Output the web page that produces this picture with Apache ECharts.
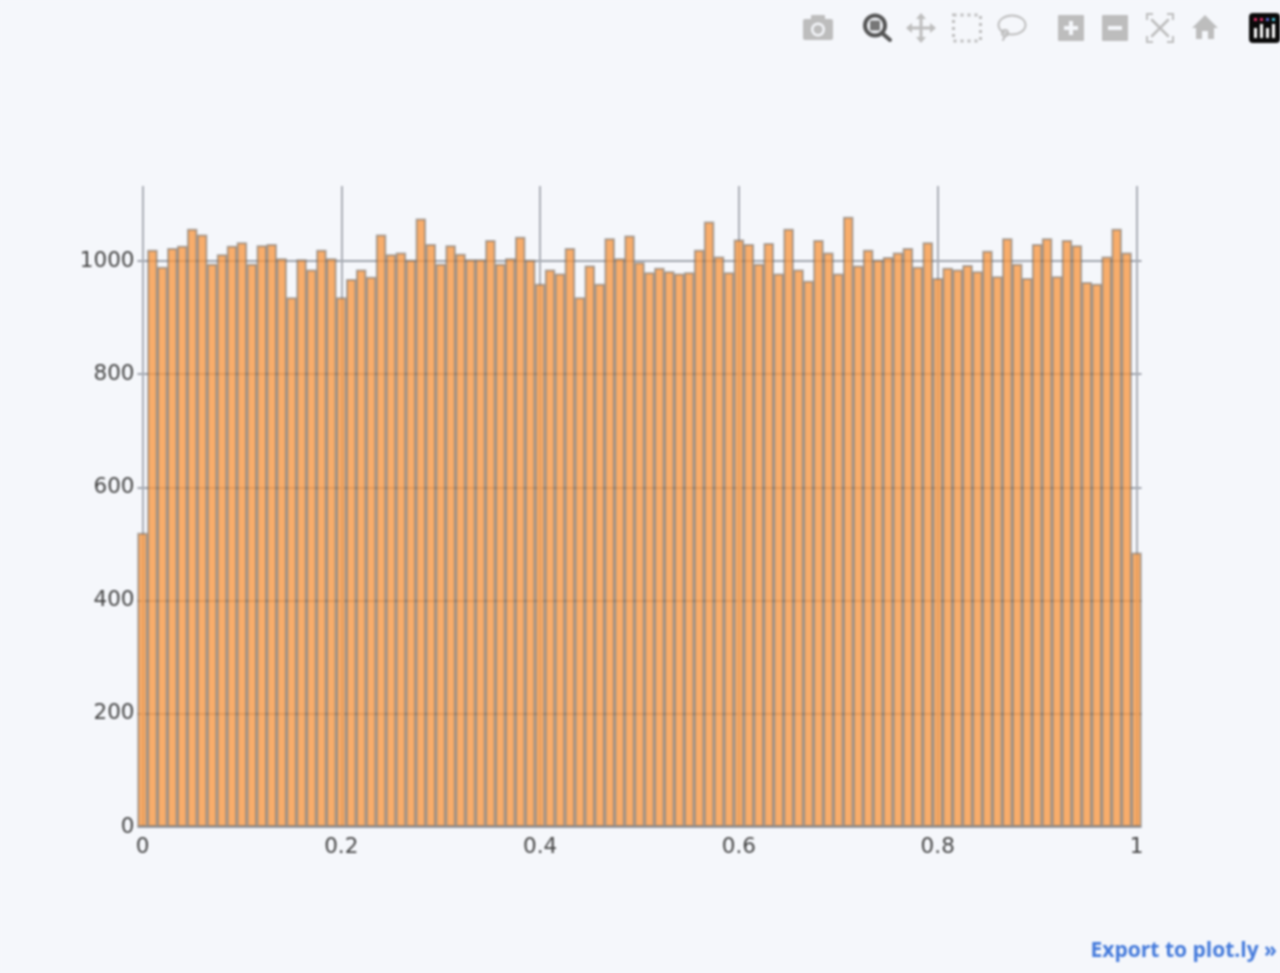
<!DOCTYPE html>
<html><head><meta charset="utf-8">
<style>html,body{margin:0;padding:0;background:#f5f7fb}#c{width:1280px;height:973px;filter:blur(0.8px)}</style>
<script src="https://cdn.jsdelivr.net/npm/echarts@6/dist/echarts.min.js"></script>
</head><body><div id="c"></div>
<script>
const binCounts = [520,
1020,990,1023,1027,1057,1047,995,1012,1027,1033,
995,1028,1030,1005,936,1003,985,1020,1005,936,
968,985,972,1047,1012,1015,1002,1075,1030,995,
1028,1013,1003,1003,1037,995,1005,1043,1002,960,
985,978,1023,936,992,960,1040,1005,1045,998,
980,988,982,978,980,1020,1070,1008,980,1038,
1030,995,1032,978,1057,985,965,1037,1015,978,
1078,992,1020,1002,1007,1015,1023,990,1033,970,
988,985,993,982,1018,973,1040,995,970,1030,
1040,973,1037,1028,963,960,1008,1057,1015,485];
const binCentres = binCounts.map((_, i) => i / 100);
const xTicks = [0, 0.2, 0.4, 0.6, 0.8, 1];
const yTicks = [0, 200, 400, 600, 800, 1000];
const exportText = 'Export to plot.ly »';

const iconGrey = '#bdbdbd';
const bg = '#f5f7fb';
const poly = (pts, fill) => ({type:'polygon', silent:true, shape:{points:pts}, style:{fill:fill||iconGrey}});
const corner = (pts) => ({type:'polyline', silent:true, shape:{points:pts}, style:{fill:'none',stroke:iconGrey,lineWidth:2}});
const r = (x,y,w,h,fill,rad) => ({type:'rect', silent:true, shape:{x,y,width:w,height:h,r:rad||0}, style:{fill}});
const c = (cx,cy,rr,style) => ({type:'circle', silent:true, shape:{cx,cy,r:rr}, style});
const line = (x1,y1,x2,y2,stroke,w) => ({type:'line', silent:true, shape:{x1,y1,x2,y2}, style:{stroke,lineWidth:w,lineCap:'round'}});
const icons = [
  // camera
  r(803,19,30,21,iconGrey,2), r(811,15,14,6,iconGrey,1), c(818,29.5,7,{fill:bg}), c(818,29.5,4.5,{fill:iconGrey}),
  // zoom (active)
  c(875,25.5,10,{fill:'none',stroke:'#555',lineWidth:4}), r(870,20.5,10,10,'#777',1), line(882,33,890,40,'#555',4),
  // pan
  line(909,28,933,28,iconGrey,3), line(921,16,921,40,iconGrey,3),
  poly([[921,13],[926,19],[916,19]]), poly([[921,43],[926,37],[916,37]]), poly([[906,28],[912,23],[912,33]]), poly([[936,28],[930,23],[930,33]]),
  // box select
  {type:'rect', silent:true, shape:{x:953.5,y:15,width:27,height:26}, style:{fill:'none',stroke:iconGrey,lineWidth:3,lineDash:[3,4]}},
  // lasso
  {type:'ellipse', silent:true, shape:{cx:1012,cy:25,rx:13.5,ry:9.5}, style:{fill:bg,stroke:iconGrey,lineWidth:2}},
  c(1005,33,3,{fill:'none',stroke:iconGrey,lineWidth:2}), line(1005,36,1003,40,iconGrey,2),
  // zoom in
  r(1058,15,26,26,iconGrey,1), r(1064,26,14,4,bg), r(1069,21,4,14,bg),
  // zoom out
  r(1102,15,26,26,iconGrey,1), r(1108,26,14,4,bg),
  // autoscale
  line(1152,20,1168,36,iconGrey,2.5), line(1168,20,1152,36,iconGrey,2.5),
  corner([[1147,20],[1147,14],[1153,14]]), corner([[1173,20],[1173,14],[1167,14]]),
  corner([[1147,36],[1147,42],[1153,42]]), corner([[1173,36],[1173,42],[1167,42]]),
  // home
  poly([[1205,15],[1218,28],[1214,28],[1214,39],[1208,39],[1208,31],[1202,31],[1202,39],[1196,39],[1196,28],[1192,28]]),
  // logo
  r(1249,13,31,30,'#0a0a0a',4),
  r(1254,28,3,10,'#fff'), r(1260,24,3,14,'#fff'), r(1266,28,3,10,'#fff'), r(1272,24,3,14,'#fff'),
  r(1254,18,3,3,'#e0336a'), r(1260,18,3,3,'#e0336a'), r(1266,18,3,3,'#5b6ad0'), r(1272,18,3,3,'#4cc3d9'),
  // export link
  {type:'text', silent:true, x:1277, y:951, style:{text:exportText, fill:'#447adb', font:'bold 21px "Open Sans", "Liberation Sans", sans-serif', align:'right', verticalAlign:'middle'}}
];

const chart = echarts.init(document.getElementById('c'), null, {renderer:'canvas'});
chart.setOption({
  animation:false,
  backgroundColor:bg,
  grid:{left:137.5, right:138.5, top:186, bottom:146, containLabel:false},
  xAxis:{
    type:'value', min:-0.005, max:1.005,
    axisLine:{show:false}, axisTick:{show:false, customValues:xTicks},
    splitLine:{show:true, showMinLine:true, showMaxLine:true, lineStyle:{color:'#a9adb5', width:2}},
    axisLabel:{customValues:xTicks, margin:9, color:'#444', fontSize:21.5, fontFamily:'"DejaVu Sans"', formatter:v=>String(v), hideOverlap:false, showMinLabel:true, showMaxLabel:true}
  },
  yAxis:{
    type:'value', min:0, max:1132.5,
    axisLine:{show:false}, axisTick:{show:false, customValues:yTicks},
    splitLine:{show:true, lineStyle:{color:'#a0a4ac', width:2}},
    axisLabel:{customValues:yTicks, margin:3, color:'#444', fontSize:21.5, fontFamily:'"DejaVu Sans"', formatter:v=>String(v)}
  },
  series:[{
    type:'bar', barWidth:10.5, z:3,
    data:binCentres.map((x,i)=>[x,binCounts[i]]),
    itemStyle:{color:'rgba(248,152,66,0.78)', borderColor:'rgba(100,100,100,0.5)', borderWidth:2}
  }],
  graphic:{elements:icons}
});
</script></body></html>
